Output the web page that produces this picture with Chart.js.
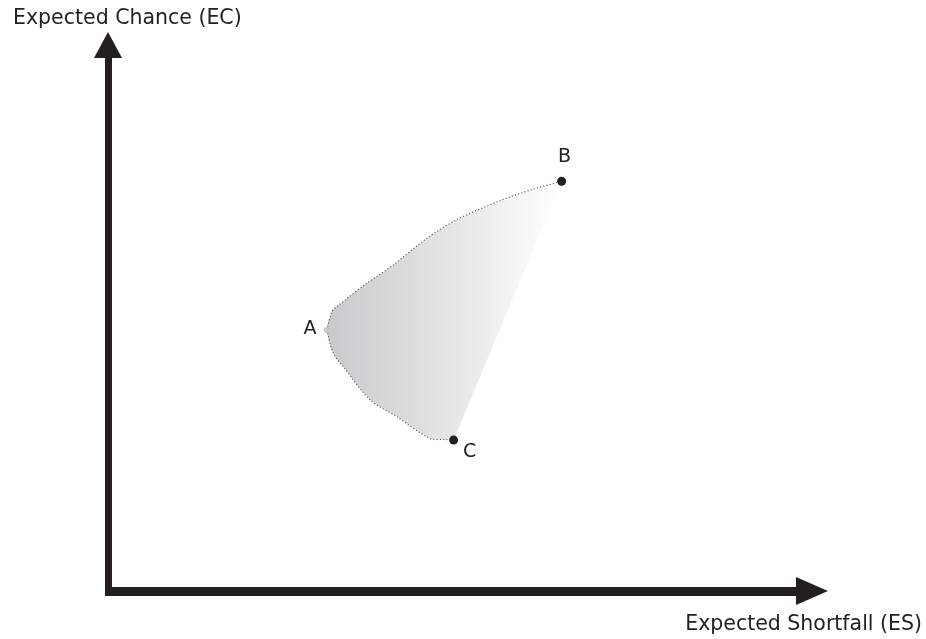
<!DOCTYPE html>
<html>
<head>
<meta charset="utf-8">
<script src="https://cdn.jsdelivr.net/npm/chart.js@4.4.1/dist/chart.umd.min.js"></script>
<style>
    html, body { margin: 0; padding: 0; background: #fff; }
    #wrap { width: 926px; height: 639px; position: relative; }
</style>
</head>
<body>
<div id="wrap"><canvas id="frontier"></canvas></div>
<script>
// Frontier sketch: ES on x, EC on y (arbitrary units, no ticks)
const xTitle = 'Expected Shortfall (ES)';
const yTitle = 'Expected Chance (EC)';

// upper edge, A -> B
const upperX = [3.04, 3.11, 3.18, 3.59, 3.96, 4.43, 4.84, 5.40, 5.86, 6.30];
const upperY = [4.67, 5.00, 5.09, 5.50, 5.83, 6.31, 6.64, 6.96, 7.17, 7.33];
// lower edge, A -> C
const lowerX = [3.04, 3.13, 3.27, 3.64, 4.01, 4.47, 4.70, 4.80];
const lowerY = [4.67, 4.25, 4.01, 3.42, 3.12, 2.73, 2.71, 2.70];

const pointNames = ['A', 'B', 'C'];
const pointX = [3.04, 6.30, 4.80];
const pointY = [4.67, 7.33, 2.70];

(function() {
    'use strict';

    const INK = '#231f20';
    const FONT = '20.5px "DejaVu Sans", Verdana, sans-serif';

    function toXY(xs, ys) {
        return xs.map((x, i) => ({ x: x, y: ys[i] }));
    }

    // outline: B -> A along upper, then A -> C along lower; the fill closes C -> B straight
    const upper = toXY(upperX, upperY);
    const lower = toXY(lowerX, lowerY);
    const outline = upper.slice().reverse().concat(lower.slice(1));

    function areaGradient(ctx) {
        const chart = ctx.chart;
        const area = chart.chartArea;
        if (!area) return '#ddd';
        const xs = chart.scales.x;
        const g = chart.ctx.createLinearGradient(
            xs.getPixelForValue(pointX[0]), 0, xs.getPixelForValue(pointX[1]), 0);
        g.addColorStop(0, '#c9c9cb');
        g.addColorStop(1, '#ffffff');
        return g;
    }

    // axes arrows, titles, point letters
    const sketchPlugin = {
        id: 'sketch',
        beforeDatasetsDraw(chart) {
            const c = chart.ctx;
            const a = chart.chartArea;
            c.save();
            c.fillStyle = INK;
            // vertical axis
            c.fillRect(a.left - 3, a.top + 26, 7, a.bottom - a.top - 21);
            c.beginPath();
            c.moveTo(a.left, a.top);
            c.lineTo(a.left + 14, a.top + 26);
            c.lineTo(a.left - 14, a.top + 26);
            c.closePath();
            c.fill();
            // horizontal axis
            c.fillRect(a.left - 3, a.bottom - 4, a.right - a.left - 29, 9);
            c.beginPath();
            c.moveTo(a.right, a.bottom);
            c.lineTo(a.right - 32, a.bottom - 14);
            c.lineTo(a.right - 32, a.bottom + 14);
            c.closePath();
            c.fill();
            c.restore();
        },
        afterDatasetsDraw(chart) {
            const c = chart.ctx;
            const xs = chart.scales.x, ys = chart.scales.y;
            c.save();
            c.fillStyle = '#222';
            c.font = FONT;
            c.textBaseline = 'middle';
            c.textAlign = 'left';
            c.fillText(yTitle, 13, 19);
            c.textAlign = 'right';
            c.fillText(xTitle, 922, 625);

            const offsets = [[-17, -1], [3, -24], [16, 12]];
            c.font = '19px "DejaVu Sans", Verdana, sans-serif';
            c.textAlign = 'center';
            pointNames.forEach((name, i) => {
                const px = xs.getPixelForValue(pointX[i]);
                const py = ys.getPixelForValue(pointY[i]);
                c.fillText(name, px + offsets[i][0], py + offsets[i][1]);
            });
            c.restore();
        }
    };

    const edgeStyle = {
        showLine: true,
        fill: false,
        borderColor: '#555',
        borderWidth: 1.1,
        borderDash: [1.1, 2.2],
        tension: 0.3,
        pointRadius: 0,
        order: 2
    };

    new Chart(document.getElementById('frontier'), {
        type: 'scatter',
        data: {
            datasets: [
                {
                    // shaded region
                    data: outline,
                    showLine: true,
                    fill: 'shape',
                    backgroundColor: areaGradient,
                    borderWidth: 0,
                    borderColor: 'rgba(0,0,0,0)',
                    tension: 0.3,
                    pointRadius: 0,
                    order: 3
                },
                Object.assign({ data: upper }, edgeStyle),
                Object.assign({ data: lower }, edgeStyle),
                {
                    data: toXY(pointX, pointY),
                    showLine: false,
                    pointRadius: [3, 4.5, 4.5],
                    pointBackgroundColor: ['#c8c8c8', INK, INK],
                    pointBorderWidth: 0,
                    order: 1
                }
            ]
        },
        options: {
            responsive: true,
            maintainAspectRatio: false,
            animation: false,
            layout: { padding: { left: 108, top: 32, right: 98, bottom: 48 } },
            plugins: {
                legend: { display: false },
                tooltip: { enabled: false }
            },
            scales: {
                x: { type: 'linear', min: 0, max: 10, display: false },
                y: { type: 'linear', min: 0, max: 10, display: false }
            }
        },
        plugins: [sketchPlugin]
    });
})();
</script>
</body>
</html>
